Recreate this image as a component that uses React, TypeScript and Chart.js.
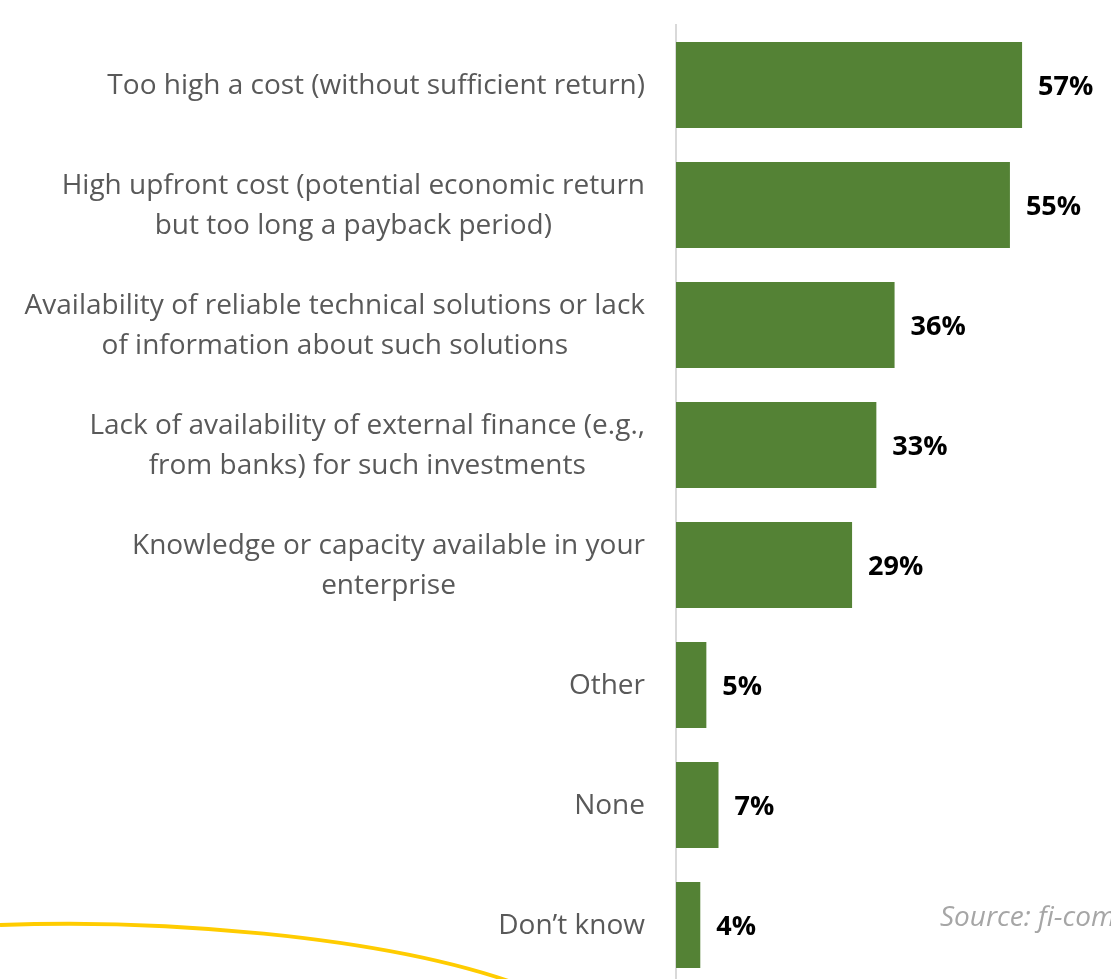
import React, { useEffect, useRef } from "react";
import { Chart, registerables } from "chart.js";

Chart.register(...registerables);

const categories: string[][] = [
  ["Too high a cost (without sufficient return)"],
  ["High upfront cost (potential economic return", "but too long a payback period)"],
  ["Availability of reliable technical solutions or lack", "of information about such solutions"],
  ["Lack of availability of external finance (e.g.,", "from banks) for such investments"],
  ["Knowledge or capacity available in your", "enterprise"],
  ["Other"],
  ["None"],
  ["Don\u2019t know"],
];

const values: number[] = [57, 55, 36, 33, 29, 5, 7, 4];

const sourceText = "Source: fi-com";

const FONT = "'Open Sans', 'Noto Sans', sans-serif";

export default function App() {
  const ref = useRef<HTMLCanvasElement | null>(null);

  useEffect(() => {
    if (!ref.current) return;

    const labelPlugin = {
      id: "customLabels",
      afterDraw(chart: any) {
        const ctx = chart.ctx;
        const yScale = chart.scales.y;
        ctx.save();
        // category labels
        ctx.font = `28px ${FONT}`;
        ctx.fillStyle = "#595959";
        ctx.textAlign = "center";
        ctx.textBaseline = "alphabetic";
        const rightEdge = yScale.right - 31;
        categories.forEach((lines, i) => {
          const cy = yScale.getPixelForValue(i);
          const w = Math.max(...lines.map((l) => ctx.measureText(l).width));
          const cx = rightEdge - w / 2;
          const n = lines.length;
          lines.forEach((line, j) => {
            ctx.fillText(line, cx, cy + 9 + (j - (n - 1) / 2) * 40);
          });
        });
        // value labels
        ctx.font = `bold 27px ${FONT}`;
        ctx.fillStyle = "#000000";
        ctx.textAlign = "left";
        const meta = chart.getDatasetMeta(0);
        meta.data.forEach((bar: any, i: number) => {
          ctx.fillText(values[i] + "%", bar.x + 16, bar.y + 10);
        });
        // source
        ctx.font = `italic 28px ${FONT}`;
        ctx.fillStyle = "#a6a6a6";
        ctx.fillText(sourceText, 940, 926);
        // yellow decorative curve
        ctx.beginPath();
        ctx.moveTo(0, 925);
        ctx.bezierCurveTo(150, 919, 380, 934, 520, 985);
        ctx.strokeStyle = "#FFCC00";
        ctx.lineWidth = 4;
        ctx.stroke();
        ctx.restore();
      },
    };

    const chart = new Chart(ref.current, {
      type: "bar",
      data: {
        labels: categories.map((c) => c.join(" ")),
        datasets: [
          {
            data: values,
            backgroundColor: "#548235",
            borderWidth: 0,
            barPercentage: 0.717,
            categoryPercentage: 1,
          },
        ],
      },
      options: {
        indexAxis: "y",
        responsive: false,
        animation: false,
        layout: { padding: { top: 25, bottom: 15, left: 0, right: 10 } },
        plugins: {
          legend: { display: false },
          tooltip: { enabled: false },
        },
        scales: {
          x: { display: false, min: 0, max: 70 },
          y: {
            display: true,
            grid: { display: false, drawTicks: false },
            border: { display: true, color: "#d9d9d9", width: 2 },
            ticks: { display: false },
            afterFit: (s: any) => {
              s.width = 676;
            },
          },
        },
      },
      plugins: [labelPlugin],
    });

    return () => chart.destroy();
  }, []);

  return (
    <div style={{ position: "absolute", left: 0, top: 0, width: 1111, height: 1000 }}>
      <canvas ref={ref} width={1111} height={1000} style={{ display: "block" }} />
    </div>
  );
}
